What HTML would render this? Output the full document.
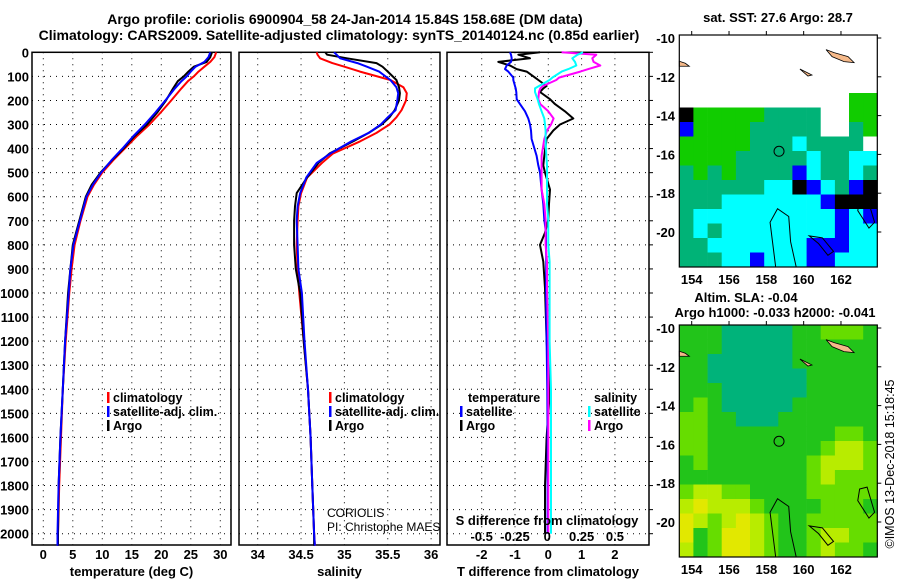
<!DOCTYPE html>
<html><head><meta charset="utf-8">
<style>
html,body{margin:0;padding:0;background:#fff;}
svg{display:block;font-family:"Liberation Sans",Arial,sans-serif;}
.b{font-weight:bold;font-size:13px;}
</style></head>
<body>
<svg id="fig" width="900" height="580" viewBox="0 0 900 580" xmlns="http://www.w3.org/2000/svg">
<g font-weight="bold" font-size="14" text-anchor="middle">
<text x="345" y="24">Argo profile: coriolis 6900904_58 24-Jan-2014 15.84S 158.68E (DM data)</text>
<text x="339" y="40">Climatology: CARS2009. Satellite-adjusted climatology: synTS_20140124.nc (0.85d earlier)</text>
</g>
<g id="layer"></g>
</svg>
<script>
// ---------- data ----------
const depthTicks = [0,100,200,300,400,500,600,700,800,900,1000,1100,1200,1300,1400,1500,1600,1700,1800,1900,2000];
const tTicks = [0,5,10,15,20,25,30];
const sTicks = [34,34.5,35,35.5,36];
const dTTicks = [-2,-1,0,1,2];
const dSTicks = [-0.5,-0.25,0,0.25,0.5];
const dSTickLabels = ["-0.5","-0.25","0","0.25","0.5"];

const tDepth = [0,20,40,60,80,100,120,150,200,250,300,350,400,450,500,550,600,700,800,900,1000,1200,1400,1600,1800,2000,2050];
const tArgo = [28.6,28.3,27.7,25.5,24.6,23.8,22.8,22.0,20.8,19.3,17.6,15.4,13.6,11.6,9.7,8.2,7.2,6.1,5.0,4.6,4.2,3.7,3.3,2.9,2.6,2.5,2.5];
const tClim = [29.3,29.0,28.3,27.3,26.3,25.5,24.5,23.4,21.7,19.9,18.0,15.8,13.8,11.8,10.0,8.6,7.5,6.3,5.3,4.8,4.4,3.8,3.3,3.0,2.7,2.5,2.45];
const tSat = [28.3,28.0,27.3,25.8,25.0,24.3,23.4,22.3,20.7,19.0,17.2,15.2,13.4,11.5,9.8,8.4,7.3,6.2,5.1,4.6,4.3,3.7,3.3,2.9,2.6,2.4,2.4];

const sDepth = [0,10,25,45,60,80,115,145,170,200,240,270,300,335,370,420,460,520,585,640,700,800,900,1000,1200,1400,1600,1800,2000,2050];
const sArgo = [34.78,34.80,35.03,35.37,35.44,35.50,35.60,35.63,35.64,35.63,35.58,35.52,35.43,35.28,35.10,34.83,34.70,34.57,34.45,34.43,34.42,34.42,34.44,34.49,34.53,34.58,34.61,34.63,34.65,34.65];
const sClim = [34.68,34.69,34.72,34.86,35.00,35.18,35.53,35.68,35.72,35.71,35.66,35.60,35.52,35.37,35.18,34.87,34.74,34.57,34.50,34.47,34.46,34.45,34.46,34.48,34.53,34.58,34.61,34.63,34.65,34.66];
const sSat = [34.88,34.91,34.95,35.15,35.26,35.40,35.53,35.60,35.62,35.61,35.59,35.50,35.42,35.28,35.08,34.84,34.68,34.56,34.49,34.46,34.45,34.46,34.47,34.51,34.54,34.58,34.61,34.63,34.65,34.66];

const dDepth = [0,10,25,40,55,70,80,105,115,140,150,165,195,215,245,275,300,325,360,430,470,500,570,630,695,750,800,870,980,1200,1400,1600,1800,2000];
const dTArgo = [-0.25,-0.9,-0.55,-1.5,-1.15,-0.95,-0.65,-0.4,-0.3,-0.05,-0.15,-0.25,0.05,0.2,0.5,0.75,0.35,0.15,-0.05,-0.12,-0.15,-0.1,0.05,0.02,0,-0.1,-0.25,-0.15,-0.1,-0.05,0.05,-0.05,-0.1,-0.1];
const dTSat = [-1.15,-1.12,-1.1,-1.12,-1.25,-1.3,-1.2,-1.05,-1.05,-1.0,-0.98,-0.96,-0.95,-0.85,-0.7,-0.6,-0.55,-0.52,-0.5,-0.35,-0.3,-0.25,-0.2,-0.15,-0.12,-0.07,-0.07,-0.06,-0.07,-0.05,-0.03,-0.02,-0.02,-0.02];
const dSArgo = [0.1,0.36,0.33,0.34,0.39,0.3,0.24,0.08,0.06,-0.04,-0.06,-0.07,-0.075,-0.06,0.0,0.04,0.02,-0.01,-0.03,-0.05,-0.05,-0.05,-0.05,-0.03,-0.02,-0.02,-0.02,-0.01,-0.01,0,0,0,0,0];
const dSSat = [0.26,0.22,0.18,0.2,0.21,0.15,0.1,0.03,0.01,-0.07,-0.1,-0.1,-0.08,-0.07,-0.05,-0.03,-0.025,-0.02,-0.02,-0.015,-0.01,-0.01,-0.01,-0.01,0,0,0,0.01,0.01,0.01,0.02,0.02,0.02,0.02];

const lonTicks = [154,156,158,160,162];
const latTicks = [-10,-12,-14,-16,-18,-20];
const argoLon = 158.68, argoLat = -15.84;
const sstGrid = [
"wwwwwwwwwwwwww","wwwwwwwwwwwwww","wwwwwwwwwwwwww","wwwwwwwwwwwwww","wwwwwwwwwwwwGG",
"kGGGGGggggwwGG","bGGGGgggggwwgG","GGGGGgggcggggw","GGGGgggggcggcc","gGgGggggbcggcg",
"ggggggcckbcgbk","gggcccccccbkkk","gccccccccccbcb","gcgccccccccbcc","ggcccccccbbbcc","gggccbcccbbccc"];
const slaGrid = [
"gggtttttggGGGg","gggtttttgggggg","ggttttttgggggg","ggtttttttggggg","gggttttttggggg",
"gGgtttttgggggg","GGggtttggggggg","GGgggggggggGGg","GGggggggggGyyG","gGgggggggGyyyG",
"gggggggggGyGGG","GyyGGggggGGGGG","yYyyyGggggGGGg","YyGyYyGggGGGGG","YgGYYyGggGyyGG","ygGYYyGggGyGGg"];

// ---------- helpers ----------
const NS = "http://www.w3.org/2000/svg";
const layer = document.getElementById('layer');
function mk(tag, attrs, parent){ const e=document.createElementNS(NS,tag); for(const k in attrs) e.setAttribute(k,attrs[k]); (parent||layer).appendChild(e); return e; }
function txt(x,y,s,attrs,parent){ const e=mk('text',Object.assign({x:x,y:y},attrs||{}),parent); e.textContent=s; return e; }

const yTop=52.3, yPer=0.2407, yBot=545;
const yD = d => yTop + d*yPer;
const xT = v => 43.3 + v*5.9;
const xS = v => 257.7 + (v-34)*86.7;
const xDT = v => 548.3 + v*33.3;
const xDS = v => 548.3 + v*133.3;

function panel(name, x0, x1, gridVals, xf, labels, title){
  const g = mk('g',{});
  
  
  depthTicks.forEach(d=>{ if(d>0) mk('line',{x1:x0,x2:x1,y1:yD(d),y2:yD(d),stroke:'#000','stroke-width':1,'stroke-dasharray':'1 5'},g); });
  gridVals.forEach(v=>{ const x=xf(v); mk('line',{x1:x,x2:x,y1:yTop,y2:yBot,stroke:'#000','stroke-width':1,'stroke-dasharray':'1 5'},g); });
  mk('rect',{x:x0,y:yTop,width:x1-x0,height:yBot-yTop,fill:'none',stroke:'#000','stroke-width':1.5},g);
  labels.forEach((l,i)=>{ const t=txt(xf(l.v),559,l.s,{'class':'b','text-anchor':'middle'},g);
    
     });
  const tt = txt((x0+x1)/2, 576, title, {'class':'b','text-anchor':'middle'}, g);
  
  
  return g;
}
function series(g, name, depths, vals, xf, color){
  const pts = depths.map((d,i)=>xf(vals[i]).toFixed(1)+','+yD(d).toFixed(1)).join(' ');
  const p = mk('polyline',{points:pts,fill:'none',stroke:color,'stroke-width':2,'stroke-linejoin':'round'},g);
  
  
}
function legend(g, name, x, y, color, label){
  const lg = mk('g',{},g);
  
  
  mk('rect',{x:x,y:y-10,width:2.5,height:11,fill:color},lg);
  txt(x+6,y,label,{'font-size':12.5,'font-weight':'bold'},lg);
}

// depth axis labels
depthTicks.forEach(d=>{ const t=txt(29,yD(d)+5,String(d),{'class':'b','text-anchor':'end'});
  
   });

// panel 1 temperature
const p1 = panel('temperature-panel', 32, 231, tTicks, xT, tTicks.map(v=>({v:v,s:String(v)})), 'temperature (deg C)');
series(p1,'temperature-climatology-line',tDepth,tClim,xT,'#ff0000');
series(p1,'temperature-argo-line',tDepth,tArgo,xT,'#000000');
series(p1,'temperature-satellite-line',tDepth,tSat,xT,'#0000ff');
legend(p1,'legend-climatology',107,402,'#ff0000','climatology');
legend(p1,'legend-satellite-adj',107,416,'#0000ff','satellite-adj. clim.');
legend(p1,'legend-argo',107,430,'#000000','Argo');

// panel 2 salinity
const p2 = panel('salinity-panel', 239, 440, sTicks, xS, sTicks.map(v=>({v:v,s:String(v)})), 'salinity');
series(p2,'salinity-climatology-line',sDepth,sClim,xS,'#ff0000');
series(p2,'salinity-argo-line',sDepth,sArgo,xS,'#000000');
series(p2,'salinity-satellite-line',sDepth,sSat,xS,'#0000ff');
legend(p2,'legend-climatology-s',329,402,'#ff0000','climatology');
legend(p2,'legend-satellite-adj-s',329,416,'#0000ff','satellite-adj. clim.');
legend(p2,'legend-argo-s',329,430,'#000000','Argo');
const c1 = txt(327,517,'CORIOLIS',{'font-size':12});
 
const c2 = txt(327,531,'PI: Christophe MAES',{'font-size':12});
 

// panel 3 differences
const p3 = panel('difference-panel', 447, 649, dTTicks, xDT, dTTicks.map(v=>({v:v,s:String(v)})), 'T difference from climatology');
series(p3,'t-diff-argo-line',dDepth,dTArgo,xDT,'#000000');
series(p3,'t-diff-satellite-line',dDepth,dTSat,xDT,'#0000ff');
series(p3,'s-diff-argo-line',dDepth,dSArgo,xDS,'#ff00ff');
series(p3,'s-diff-satellite-line',dDepth,dSSat,xDS,'#00ffff');
const lt = txt(468,402,'temperature',{'font-size':12.5,'font-weight':'bold'},p3);
 
const ls = txt(594,402,'salinity',{'font-size':12.5,'font-weight':'bold'},p3);
 
legend(p3,'legend-t-satellite',460,416,'#0000ff','satellite');
legend(p3,'legend-t-argo',460,430,'#000000','Argo');
legend(p3,'legend-s-satellite',588,416,'#00ffff','satellite');
legend(p3,'legend-s-argo',588,430,'#ff00ff','Argo');
const sdt = txt(547,525,'S difference from climatology',{'class':'b','text-anchor':'middle'},p3);
 
dSTicks.forEach((v,i)=>{ const t=txt(xDS(v)-(i==2?1:0),541,dSTickLabels[i],{'class':'b','text-anchor':'middle'},p3);
    });
// right ticks of panel 3
depthTicks.forEach(d=>{ mk('line',{x1:649,x2:653,y1:yD(d),y2:yD(d),stroke:'#000'},p3); });

// ---------- maps ----------
const mX0=679.3, mX1=877.3;
const xLon = lon => 691.7 + (lon-154)*18.66;
const cols = {w:'#ffffff',g:'#00b377',G:'#11cc00',c:'#00ffff',b:'#0000ff',k:'#000000'};
const cols2 = {t:'#00b37a',g:'#22c41a',G:'#66dd00',y:'#b8ec00',Y:'#e2e800'};
function map(name, top, grid, palette, title1, title2){
  const bot = top+232;
  const yLat = lat => top+3 + (-10-lat)*19.4;
  const g = mk('g',{});
  
  
  const cw=(mX1-mX0)/14, ch=232/16;
  grid.forEach((row,r)=>{ for(let c=0;c<14;c++){ mk('rect',{x:(mX0+c*cw).toFixed(1),y:(top+r*ch).toFixed(1),width:(cw+0.4).toFixed(1),height:(ch+0.4).toFixed(1),fill:palette[row[c]]},g); } });
  // islands
  mk('path',{d:`M ${xLon(161.2)} ${yLat(-10.6)} l 8 3 l 14 4 l 6 6 l -10 -1 l -12 -5 z`,fill:'#f5b98a',stroke:'#000','stroke-width':0.8},g);
  mk('path',{d:`M ${xLon(159.8)} ${yLat(-11.6)} l 6 3 l 6 3 l -4 1 z`,fill:'#f5b98a',stroke:'#000','stroke-width':0.8},g);
  mk('path',{d:`M ${mX0} ${yLat(-11.2)} l 6 2 l 4 3 l -10 0 z`,fill:'#f5b98a',stroke:'#000','stroke-width':0.8},g);
  // bathymetry contours
  mk('path',{d:`M ${xLon(158.5)} ${bot} L ${xLon(158.2)} ${yLat(-19.5)} L ${xLon(158.6)} ${yLat(-18.8)} L ${xLon(159.2)} ${yLat(-19.2)} L ${xLon(159.3)} ${yLat(-20.5)} L ${xLon(159.6)} ${bot}`,fill:'none',stroke:'#000','stroke-width':1},g);
  mk('path',{d:`M ${xLon(160.3)} ${yLat(-20.2)} L ${xLon(161)} ${yLat(-20.3)} L ${xLon(161.6)} ${yLat(-21)} L ${xLon(161.3)} ${yLat(-21.2)} L ${xLon(160.8)} ${yLat(-20.6)} z`,fill:'none',stroke:'#000','stroke-width':1},g);
  mk('path',{d:`M ${xLon(163)} ${yLat(-18.3)} L ${xLon(163.4)} ${yLat(-18.2)} L ${xLon(163.8)} ${yLat(-19.5)} L ${xLon(163.5)} ${yLat(-19.8)} L ${xLon(162.9)} ${yLat(-18.9)} z`,fill:'none',stroke:'#000','stroke-width':1},g);
  // argo location
  const ci = mk('circle',{cx:xLon(argoLon),cy:yLat(argoLat),r:5,fill:'none',stroke:'#000','stroke-width':1},g);
  
  
  mk('rect',{x:mX0,y:top,width:mX1-mX0,height:232,fill:'none',stroke:'#000','stroke-width':1.2},g);
  latTicks.forEach(l=>{ const y=yLat(l);
    mk('line',{x1:mX1,x2:mX1+4,y1:y,y2:y,stroke:'#000'},g);
    const t=txt(675,y+5,String(l),{'class':'b','text-anchor':'end'},g);
    
     });
  lonTicks.forEach(l=>{ const x=xLon(l);
    mk('line',{x1:x,x2:x,y1:top,y2:top-4,stroke:'#000'},g);
    const t=txt(x,bot+17,String(l),{'class':'b','text-anchor':'middle'},g);
    
     });
  return g;
}
map('sst-map',35,sstGrid,cols);
map('sla-map',325,slaGrid,cols2);
const mt1 = txt(778,22,'sat. SST: 27.6 Argo: 28.7',{'class':'b','text-anchor':'middle'});
 
const mt2 = txt(746,302,'Altim. SLA: -0.04',{'class':'b','text-anchor':'middle'});
 
const mt3 = txt(775,317,'Argo h1000: -0.033 h2000: -0.041',{'class':'b','text-anchor':'middle'});
 
const cp = txt(0,0,'©IMOS 13-Dec-2018 15:18:45',{'font-size':12.5,'text-anchor':'middle',transform:'translate(894,464) rotate(-90)'});
 
</script>
</body></html>
